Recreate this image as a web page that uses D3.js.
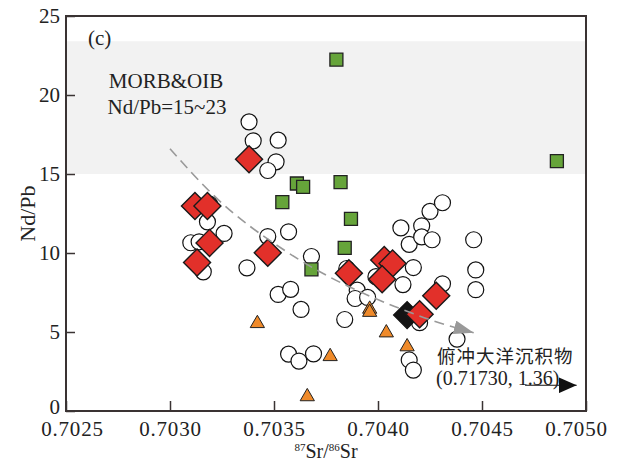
<!DOCTYPE html>
<html>
<head>
<meta charset="utf-8">
<script src="https://cdn.jsdelivr.net/npm/d3@7"></script>
<style>
  body { margin: 0; background: #fff; }
  svg text { font-family: "Liberation Serif", "DejaVu Serif", "Noto Serif", serif; fill: #222; }
</style>
</head>
<body>
<div id="chart"></div>
<script>
// data: [87Sr/86Sr, Nd/Pb]
var circlePts = [
  [0.70338, 18.30], [0.70340, 17.10], [0.70352, 17.14], [0.70351, 15.77], [0.70347, 15.22],
  [0.70319, 13.09], [0.70318, 11.97], [0.70326, 11.24], [0.70310, 10.65], [0.70314, 10.71], [0.70316, 8.81],
  [0.70347, 11.04], [0.70357, 11.34], [0.70337, 9.06], [0.70368, 9.78],
  [0.70352, 7.38], [0.70358, 7.70], [0.70363, 6.43],
  [0.70385, 9.02], [0.70390, 7.65], [0.70389, 7.12], [0.70395, 7.19], [0.70399, 8.50], [0.70384, 5.79],
  [0.70357, 3.60], [0.70362, 3.16], [0.70369, 3.62],
  [0.70411, 11.59], [0.70421, 11.72], [0.70415, 10.55], [0.70421, 11.02], [0.70426, 10.84],
  [0.70425, 12.63], [0.70431, 13.18],
  [0.70417, 9.08], [0.70412, 8.00], [0.70431, 8.05],
  [0.70446, 10.84], [0.70447, 8.93], [0.70447, 7.68],
  [0.70420, 5.59], [0.70438, 4.55], [0.70415, 3.23], [0.70417, 2.59]
];
var squarePts = [
  [0.70380, 22.24], [0.70486, 15.81], [0.70361, 14.40], [0.70364, 14.19], [0.70382, 14.48],
  [0.70354, 13.22], [0.70387, 12.16], [0.70384, 10.33], [0.70368, 8.96]
];
var trianglePts = [
  [0.70342, 5.54], [0.70366, 0.91], [0.70377, 3.45], [0.70396, 6.45], [0.70396, 6.25],
  [0.70404, 4.95], [0.70414, 4.07]
];
var diamondPts = [
  [0.70338, 15.94], [0.70312, 12.98], [0.70318, 12.98], [0.70319, 10.64], [0.70313, 9.40],
  [0.70347, 10.01], [0.70386, 8.72], [0.70403, 9.55], [0.70407, 9.34], [0.70402, 8.34],
  [0.70420, 6.12], [0.70428, 7.30]
];
var blackPts = [[0.70414, 6.07]];

// trend arrow (dashed) and the off-scale sediment arrow
var trendPts = [
  [0.70300, 16.6], [0.70325, 12.92], [0.70352, 10.39], [0.70370, 8.92], [0.70389, 7.65],
  [0.70408, 6.60], [0.70427, 5.65], [0.70446, 4.95]
];
var sedimentArrow = [[0.704707, 1.63], [0.704955, 1.63]];
var mantleBand = [15, 23.4];

var xTicks = [0.7025, 0.7030, 0.7035, 0.7040, 0.7045, 0.7050];
var yTicks = [0, 5, 10, 15, 20, 25];

var serif = "'Liberation Serif', 'DejaVu Serif', 'Noto Serif', serif";

var svgWidth = 620, svgHeight = 463;
var margin = { top: 16, right: 34, bottom: 52, left: 66 };
var chartWidth = svgWidth - margin.left - margin.right;
var chartHeight = svgHeight - margin.top - margin.bottom;

var svg = d3.select("#chart").append("svg")
  .attr("width", svgWidth)
  .attr("height", svgHeight);

var defs = svg.append("defs");
defs.append("marker")
  .attr("id", "grayHead")
  .attr("viewBox", "0 0 20 14")
  .attr("refX", 20).attr("refY", 7)
  .attr("markerWidth", 20).attr("markerHeight", 14)
  .attr("markerUnits", "userSpaceOnUse")
  .attr("orient", "auto")
  .append("path").attr("d", "M0,0 L20,7 L0,14 Z").attr("fill", "#999");
defs.append("marker")
  .attr("id", "blackHead")
  .attr("viewBox", "0 0 18 16")
  .attr("refX", 18).attr("refY", 8)
  .attr("markerWidth", 18).attr("markerHeight", 16)
  .attr("markerUnits", "userSpaceOnUse")
  .attr("orient", "auto")
  .append("path").attr("d", "M0,0 L18,8 L0,16 Z").attr("fill", "#111");

var chartGroup = svg.append("g")
  .attr("transform", `translate(${margin.left}, ${margin.top})`);

var xScale = d3.scaleLinear().domain([0.7025, 0.7050]).range([0, chartWidth]);
var yScale = d3.scaleLinear().domain([0, 25]).range([chartHeight, 0]);

// MORB & OIB band
chartGroup.append("rect")
  .attr("x", 0)
  .attr("y", yScale(mantleBand[1]))
  .attr("width", chartWidth)
  .attr("height", yScale(mantleBand[0]) - yScale(mantleBand[1]))
  .attr("fill", "#f2f2f2");

// axes with inward ticks
var xAxis = d3.axisBottom(xScale).tickValues(xTicks).tickFormat(d3.format(".4f"))
  .tickSizeInner(-10).tickSizeOuter(0).tickPadding(10);
var yAxis = d3.axisLeft(yScale).tickValues(yTicks).tickFormat(d3.format("d"))
  .tickSizeInner(-9).tickSizeOuter(0).tickPadding(6);

var gx = chartGroup.append("g")
  .attr("transform", `translate(0, ${chartHeight})`)
  .call(xAxis);
var gy = chartGroup.append("g").call(yAxis);
[gx, gy].forEach(function (g) {
  g.attr("font-family", null);
  g.select(".domain").remove();
  g.selectAll(".tick line").attr("stroke", "#3a3333").attr("stroke-width", 1.5);
  g.selectAll(".tick text")
    .style("font-family", serif)
    .attr("font-size", 21).attr("fill", "#222");
});
gx.selectAll(".tick text").attr("letter-spacing", 0.8);
// end labels sit a little inside the frame
gx.selectAll(".tick text").filter(d => d === 0.7025).attr("dx", 6);
gx.selectAll(".tick text").filter(d => d === 0.7050).attr("dx", -10);
gy.selectAll(".tick text").filter(d => d === 0).attr("dy", "0.1em");

// circles
chartGroup.selectAll("circle.pt")
  .data(circlePts)
  .enter()
  .append("circle")
  .classed("pt", true)
  .attr("cx", d => xScale(d[0]))
  .attr("cy", d => yScale(d[1]))
  .attr("r", 8)
  .attr("fill", "#fff")
  .attr("stroke", "#111")
  .attr("stroke-width", 1.2);

// triangles
var triPath = d3.symbol().type(d3.symbolTriangle).size(88)();
chartGroup.selectAll("path.tri")
  .data(trianglePts)
  .enter()
  .append("path")
  .classed("tri", true)
  .attr("d", triPath)
  .attr("transform", d => `translate(${xScale(d[0])}, ${yScale(d[1])})`)
  .attr("fill", "#ef8a2a")
  .attr("stroke", "#222")
  .attr("stroke-width", 1);

// squares
var sqPath = d3.symbol().type(d3.symbolSquare).size(169)();
chartGroup.selectAll("path.sq")
  .data(squarePts)
  .enter()
  .append("path")
  .classed("sq", true)
  .attr("d", sqPath)
  .attr("transform", d => `translate(${xScale(d[0])}, ${yScale(d[1])})`)
  .attr("fill", "#66a43a")
  .attr("stroke", "#222")
  .attr("stroke-width", 1.3);

// diamonds
var dmPath = d3.symbol().type(d3.symbolSquare).size(365)();
chartGroup.selectAll("path.black")
  .data(blackPts)
  .enter()
  .append("path")
  .classed("black", true)
  .attr("d", dmPath)
  .attr("transform", d => `translate(${xScale(d[0])}, ${yScale(d[1])}) rotate(45)`)
  .attr("fill", "#141414")
  .attr("stroke", "#111")
  .attr("stroke-width", 1.3);
chartGroup.selectAll("path.dm")
  .data(diamondPts)
  .enter()
  .append("path")
  .classed("dm", true)
  .attr("d", dmPath)
  .attr("transform", d => `translate(${xScale(d[0])}, ${yScale(d[1])}) rotate(45)`)
  .attr("fill", "#e2302a")
  .attr("stroke", "#1a1a1a")
  .attr("stroke-width", 1.4);

// dashed trend arrow
var trendLine = d3.line()
  .x(d => xScale(d[0]))
  .y(d => yScale(d[1]))
  .curve(d3.curveBasis);
chartGroup.append("path")
  .attr("d", trendLine(trendPts))
  .attr("fill", "none")
  .attr("stroke", "#999")
  .attr("stroke-width", 1.6)
  .attr("stroke-dasharray", "10,6")
  .attr("marker-end", "url(#grayHead)");

// sediment arrow
chartGroup.append("line")
  .attr("x1", xScale(sedimentArrow[0][0]))
  .attr("y1", yScale(sedimentArrow[0][1]))
  .attr("x2", xScale(sedimentArrow[1][0]))
  .attr("y2", yScale(sedimentArrow[1][1]))
  .attr("stroke", "#111")
  .attr("stroke-width", 1.2)
  .attr("marker-end", "url(#blackHead)");

// frame
chartGroup.append("rect")
  .attr("width", chartWidth)
  .attr("height", chartHeight)
  .attr("fill", "none")
  .attr("stroke", "#3a3333")
  .attr("stroke-width", 2);

// annotations
chartGroup.append("text")
  .attr("x", 22).attr("y", 29)
  .attr("font-size", 21)
  .text("(c)");
chartGroup.append("text")
  .attr("x", 100).attr("y", 72)
  .attr("text-anchor", "middle")
  .attr("font-size", 21)
  .text("MORB&OIB");
chartGroup.append("text")
  .attr("x", 101).attr("y", 98)
  .attr("text-anchor", "middle")
  .attr("font-size", 21)
  .text("Nd/Pb=15~23");
chartGroup.append("text")
  .attr("x", 371).attr("y", 347)
  .attr("font-size", 18.5)
  .attr("letter-spacing", 1)
  .style("font-family", "'Noto Sans CJK SC', sans-serif")
  .text("俯冲大洋沉积物");
chartGroup.append("text")
  .attr("x", 370).attr("y", 369)
  .attr("font-size", 20)
  .text("(0.71730, 1.36)");

// axis labels
chartGroup.append("text")
  .attr("transform", "rotate(-90)")
  .attr("x", -chartHeight / 2)
  .attr("y", -31)
  .attr("text-anchor", "middle")
  .attr("font-size", 22)
  .text("Nd/Pb");

var xLabel = chartGroup.append("text")
  .attr("x", chartWidth / 2)
  .attr("y", chartHeight + 47)
  .attr("text-anchor", "middle")
  .attr("font-size", 20);
xLabel.append("tspan").attr("font-size", 11).attr("dy", -7).text("87");
xLabel.append("tspan").attr("dy", 7).text("Sr/");
xLabel.append("tspan").attr("font-size", 11).attr("dy", -7).text("86");
xLabel.append("tspan").attr("dy", 7).text("Sr");
</script>
</body>
</html>
